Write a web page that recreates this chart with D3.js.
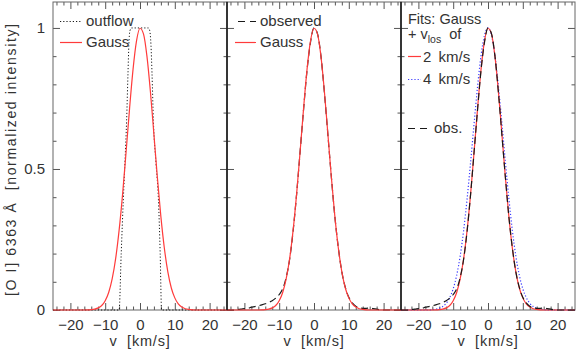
<!DOCTYPE html>
<html>
<head>
<meta charset="utf-8">
<script src="https://cdn.jsdelivr.net/npm/d3@7"></script>
<style>
  body { margin: 0; background: #fff; }
  text { font-family: "Liberation Sans", Arial, sans-serif; fill: #333; }
</style>
</head>
<body>
<svg width="576" height="350"></svg>
<script>
// velocity grid (km/s) shared by the sampled profiles
var vGrid = [-25, -24, -23, -22, -21, -20, -19, -18, -17, -16, -15, -14, -13, -12, -11, -10, -9, -8, -7, -6, -5, -4, -3, -2, -1,
             0, 1, 2, 3, 4, 5, 6, 7, 8, 9, 10, 11, 12, 13, 14, 15, 16, 17, 18, 19, 20, 21, 22, 23, 24, 25];

// Gaussian fit (red)
var gauss = [0, 0, 0, 0, 0, 0, 0, 0, 0, 0, 0.0003, 0.0013, 0.0033, 0.0075, 0.016, 0.033, 0.062, 0.11, 0.182, 0.283, 0.411, 0.56, 0.714, 0.853, 0.954,
             0.999, 0.979, 0.899, 0.773, 0.622, 0.469, 0.331, 0.219, 0.135, 0.078, 0.043, 0.0217, 0.0103, 0.0046, 0.0019, 0.0005, 0, 0, 0, 0, 0, 0, 0, 0, 0, 0];

// observed profile (black dashed)
var observed = [0, 0, 0, 0.002, 0.003, 0.005, 0.006, 0.01, 0.012, 0.015, 0.018, 0.022, 0.027, 0.033, 0.042, 0.055, 0.075, 0.115, 0.18, 0.28, 0.41, 0.56, 0.71, 0.85, 0.95,
                1.0, 0.98, 0.9, 0.77, 0.62, 0.47, 0.33, 0.22, 0.135, 0.08, 0.045, 0.025, 0.013, 0.008, 0.006, 0.006, 0.007, 0.005, 0.003, 0.001, 0, 0, 0, 0, 0, 0];

// Gauss + v_los 4 km/s (blue dotted)
var fit4 = [0, 0, 0, 0, 0, 0, 0, 0, 0, 0.0014, 0.003, 0.0063, 0.0127, 0.024, 0.044, 0.075, 0.123, 0.191, 0.282, 0.395, 0.524, 0.661, 0.792, 0.902, 0.974,
            1.0, 0.974, 0.902, 0.792, 0.661, 0.524, 0.395, 0.282, 0.191, 0.123, 0.075, 0.044, 0.024, 0.0127, 0.0063, 0.003, 0.0014, 0, 0, 0, 0, 0, 0, 0, 0, 0];

// outflow model (black dotted)
var outflowV = [-25, -6.0, -5.4, -4.8, -4.3, -3.85, -3.45, -3.2, -2.9, -2.4, 0, 2.4, 2.8, 3.15, 3.45, 3.85, 4.6, 5.3, 5.8, 6.2, 25];
var outflowI = [0, 0, 0.2, 0.39, 0.53, 0.67, 0.84, 0.94, 0.99, 1.0, 1.0, 1.0, 0.99, 0.94, 0.84, 0.67, 0.52, 0.39, 0.2, 0, 0];

var xMajor = [-20, -10, 0, 10, 20];
var xMinor = [-24, -22, -18, -16, -14, -12, -8, -6, -4, -2, 2, 4, 6, 8, 12, 14, 16, 18, 22, 24];
var yMajor = [0, 0.5, 1];
var yMajorLabels = ["0", "0.5", "1"];
var yMinor = [0.1, 0.2, 0.3, 0.4, 0.6, 0.7, 0.8, 0.9];

var RED = "#ff3b3b", BLUE = "#3a3aff", BLACK = "#1a1a1a";

var svg = d3.select("svg");
var box = {left: 53, width: 174, top: 2, bottom: 310};

function zip(xs, ys) {
    return xs.map(function(v, i) { return [v, ys[i]]; });
}

function getAxes(i) {
    var left = box.left + i * box.width;
    return {
        x: d3.scaleLinear().domain([-25, 25]).range([left, left + box.width]),
        y: d3.scaleLinear().domain([0, 1.092]).range([box.bottom, box.top])
    };
}

function addFrame(i, axes) {
    var g = svg.append("g").attr("class", "frame");
    var left = axes.x.range()[0], right = axes.x.range()[1];

    function ticks(axis, tr, size, values, fmt, pad) {
        var a = axis.tickValues(values).tickSizeInner(size).tickSizeOuter(0).tickPadding(pad || 3);
        a.tickFormat(fmt ? function(d, k) { return fmt[k]; } : "");
        var sel = g.append("g").attr("transform", tr).call(a);
        sel.select(".domain").remove();
        sel.selectAll("line").attr("stroke", "#555");
        sel.selectAll("text").style("font-size", "15px").attr("fill", "#333");
        return sel;
    }
    var xl = xMajor.map(function(d) { return d < 0 ? "\u2212" + (-d) : String(d); });
    ticks(d3.axisBottom(axes.x), "translate(0," + box.bottom + ")", -7, xMajor, xl, 9);
    ticks(d3.axisBottom(axes.x), "translate(0," + box.bottom + ")", -3.5, xMinor);
    ticks(d3.axisTop(axes.x), "translate(0," + box.top + ")", -7, xMajor);
    ticks(d3.axisTop(axes.x), "translate(0," + box.top + ")", -3.5, xMinor);
    ticks(d3.axisLeft(axes.y), "translate(" + left + ",0)", -7, yMajor, i === 0 ? yMajorLabels : null, 8);
    ticks(d3.axisLeft(axes.y), "translate(" + left + ",0)", -3.5, yMinor);
    ticks(d3.axisRight(axes.y), "translate(" + right + ",0)", -7, yMajor);
    ticks(d3.axisRight(axes.y), "translate(" + right + ",0)", -3.5, yMinor);

    g.append("rect")
        .attr("x", left).attr("y", box.top)
        .attr("width", box.width).attr("height", box.bottom - box.top)
        .attr("fill", "none").attr("stroke", "#666").attr("stroke-width", 1);

    g.append("text")
        .attr("x", (left + right) / 2).attr("y", 346)
        .attr("text-anchor", "middle")
        .style("font-size", "14.5px")
        .style("letter-spacing", "0.8px")
        .style("white-space", "pre")
        .text("v  [km/s]");
}

function addCurve(axes, pts, color, dash, width) {
    var line = d3.line()
        .x(function(d) { return axes.x(d[0]); })
        .y(function(d) { return axes.y(d[1]); })
        .curve(d3.curveMonotoneX);
    svg.append("path")
        .datum(pts)
        .attr("d", line)
        .attr("fill", "none")
        .attr("stroke", color)
        .attr("stroke-width", width || 1.2)
        .attr("stroke-dasharray", dash || null);
}

function legendLine(x1, x2, y, color, dash) {
    svg.append("line")
        .attr("x1", x1).attr("x2", x2).attr("y1", y).attr("y2", y)
        .attr("stroke", color).attr("stroke-width", 1.2)
        .attr("stroke-dasharray", dash || null);
}

function legendText(x, y, s, size) {
    return svg.append("text").attr("x", x).attr("y", y)
        .style("font-size", (size || 15) + "px").style("white-space", "pre").text(s);
}

var axes = [0, 1, 2].map(getAxes);
axes.forEach(function(a, i) { addFrame(i, a); });

// panel 1
addCurve(axes[0], zip(outflowV, outflowI), BLACK, "1.2,2", 1);
addCurve(axes[0], zip(vGrid, gauss), RED);
legendLine(60, 82, 21.5, BLACK, "1.2,2");
legendText(86, 26, "outflow");
legendLine(60, 82, 42.5, RED);
legendText(86, 47, "Gauss");

// panel 2
addCurve(axes[1], zip(vGrid, observed), BLACK, "7,4");
addCurve(axes[1], zip(vGrid, gauss), RED);
legendLine(238, 256, 21.5, BLACK, "7,5");
legendText(260, 26, "observed");
legendLine(235, 256, 42.5, RED);
legendText(260, 47, "Gauss");

// panel 3
addCurve(axes[2], zip(vGrid, fit4), BLUE, "1.2,2");
addCurve(axes[2], zip(vGrid, gauss), RED);
addCurve(axes[2], zip(vGrid, observed), BLACK, "7,4");
legendText(408, 23.5, "Fits: Gauss", 14.5);
var t = legendText(408, 39, "+ v", 14.5);
t.append("tspan").attr("dy", 4).style("font-size", "10.5px").text("los");
t.append("tspan").attr("dy", -4).text("  of");
legendLine(408, 421, 56.5, RED);
legendText(423, 62, "2 km/s").style("word-spacing", "3px");
legendLine(408, 421, 79.5, BLUE, "1.2,2");
legendText(423, 84, "4 km/s").style("word-spacing", "3px");
legendLine(408, 431, 128.5, BLACK, "7,5");
legendText(434, 133, "obs.");

// shared panel borders drawn darker
[1, 2].forEach(function(i) {
    var x = axes[i].x.range()[0];
    svg.append("line").attr("x1", x).attr("x2", x).attr("y1", box.top).attr("y2", box.bottom)
        .attr("stroke", "#111").attr("stroke-width", 1.4);
});

// y title
svg.append("text")
    .attr("transform", "translate(16," + ((box.top + box.bottom) / 2 + 4) + ") rotate(-90)")
    .attr("text-anchor", "middle")
    .style("font-size", "14px")
    .style("white-space", "pre")
    .attr("textLength", 272)
    .attr("lengthAdjust", "spacing")
    .text("[O I] 6363 \u00c5  [normalized intensity]");
</script>
</body>
</html>
